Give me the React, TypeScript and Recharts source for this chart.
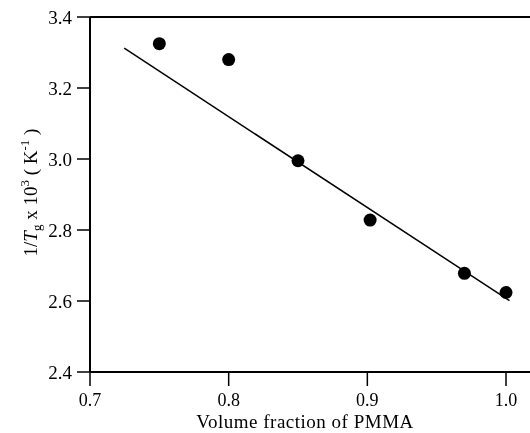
import {
  ScatterChart,
  Scatter,
  XAxis,
  YAxis,
  ReferenceLine,
  Label,
} from "recharts";

// measured points
const fraction = [0.75, 0.8, 0.85, 0.902, 0.97, 1.0];
const invTg = [3.325, 3.28, 2.995, 2.828, 2.678, 2.624];

// fitted straight line (two ends)
const fitFraction = [0.7247, 1.0025];
const fitInvTg = [3.312, 2.601];

const xTicks = [0.7, 0.8, 0.9, 1.0];
const yTicks = [2.4, 2.6, 2.8, 3.0, 3.2, 3.4];

const points = fraction.map((x, i) => ({ x, y: invTg[i] }));
const fit = fitFraction.map((x, i) => ({ x, y: fitInvTg[i] }));

const FONT = "'Liberation Serif', 'Times New Roman', serif";

const Dot = (props: any) => (
  <circle cx={props.cx} cy={props.cy} r={6.5} fill="#000" />
);

const XLabel = (props: any) => {
  const vb = props.viewBox;
  return (
    <text
      x={vb.x + vb.width / 2 - 5}
      y={vb.y + 56}
      textAnchor="middle"
      fontSize={19}
      letterSpacing={0.5}
      fontFamily={FONT}
      fill="#000"
    >
      Volume fraction of PMMA
    </text>
  );
};

const YLabel = (props: any) => {
  const vb = props.viewBox;
  const x = 37;
  const y = vb.y + vb.height / 2 - 2;
  return (
    <text
      x={x}
      y={y}
      transform={`rotate(-90, ${x}, ${y})`}
      textAnchor="middle"
      fontSize={19}
      fontFamily={FONT}
      fill="#000"
    >
      <tspan>1/</tspan>
      <tspan fontStyle="italic">T</tspan>
      <tspan fontSize={13} dy={4}>g</tspan>
      <tspan dy={-4}> x 10</tspan>
      <tspan fontSize={13} dy={-8}>3</tspan>
      <tspan dy={8}> ( K</tspan>
      <tspan fontSize={13} dy={-8}>-1</tspan>
      <tspan dy={8}> )</tspan>
    </text>
  );
};

export default function App() {
  return (
    <div
      style={{
        position: "absolute",
        left: 0,
        top: 0,
        background: "#fff",
        willChange: "transform",
      }}
    >
      <ScatterChart
        width={530}
        height={433}
        margin={{ top: 17, right: 0, bottom: 0, left: 0 }}
      >
        <XAxis
          type="number"
          dataKey="x"
          domain={[0.7, 1.0173]}
          ticks={xTicks}
          allowDataOverflow
          height={61}
          tickSize={14}
          tickMargin={7}
          tickFormatter={(v: number) => v.toFixed(1)}
          axisLine={{ stroke: "#000", strokeWidth: 2 }}
          tickLine={{ stroke: "#000", strokeWidth: 1.5 }}
          tick={{ fill: "#000", fontSize: 18, fontFamily: FONT }}
        >
          <Label content={XLabel} />
        </XAxis>
        <YAxis
          type="number"
          dataKey="y"
          domain={[2.4, 3.4]}
          ticks={yTicks}
          allowDataOverflow
          width={90}
          tickSize={13}
          tickMargin={5}
          tickFormatter={(v: number) => v.toFixed(1)}
          axisLine={{ stroke: "#000", strokeWidth: 2 }}
          tickLine={{ stroke: "#000", strokeWidth: 1.5 }}
          tick={{ fill: "#000", fontSize: 19, fontFamily: FONT }}
        >
          <Label content={YLabel} />
        </YAxis>
        <ReferenceLine y={3.4} stroke="#000" strokeWidth={2} />
        <Scatter
          data={fit}
          line={{ stroke: "#000", strokeWidth: 1.5 }}
          shape={() => <g />}
          isAnimationActive={false}
        />
        <Scatter data={points} shape={Dot} isAnimationActive={false} />
      </ScatterChart>
    </div>
  );
}
